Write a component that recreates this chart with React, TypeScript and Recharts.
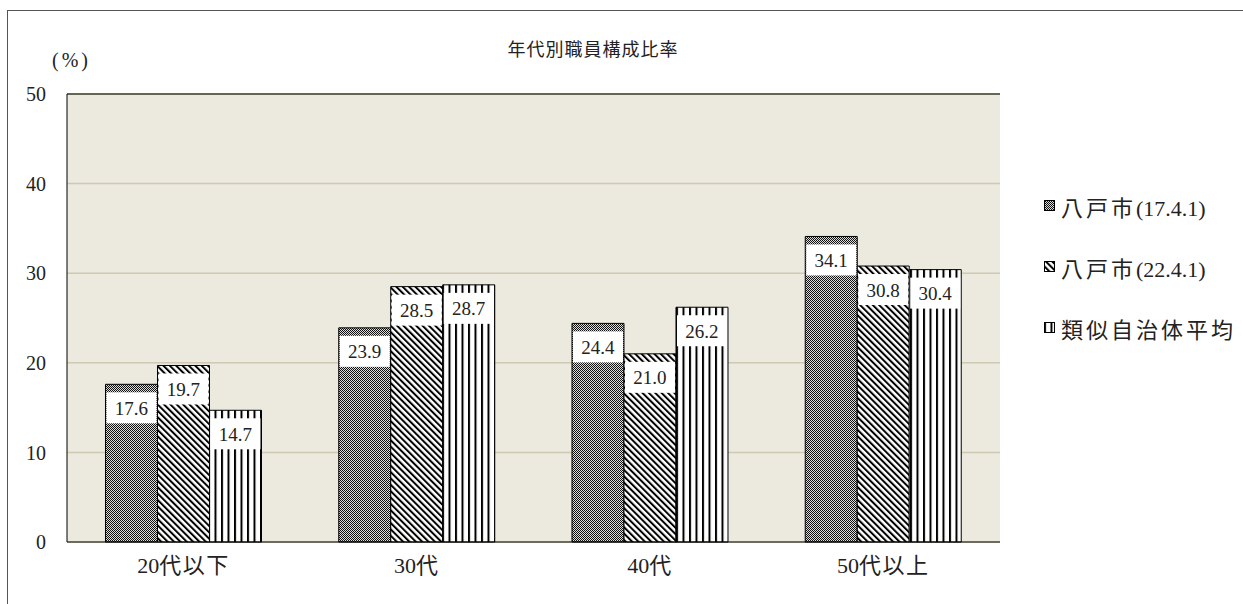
import React from 'react';
import { BarChart, Bar, XAxis, YAxis, CartesianGrid, Legend, LabelList, ReferenceLine } from 'recharts';

const categories = ['20代以下', '30代', '40代', '50代以上'];
const seriesNames = ['八戸市(17.4.1)', '八戸市(22.4.1)', '類似自治体平均'];
const hachinohe17 = [17.6, 23.9, 24.4, 34.1];
const hachinohe22 = [19.7, 28.5, 21.0, 30.8];
const similarAvg = [14.7, 28.7, 26.2, 30.4];
const yTicks = [0, 10, 20, 30, 40, 50];

const FONT = "'Liberation Serif', 'Noto Sans CJK JP', serif";
const PATTERNS = ['url(#pat-check)', 'url(#pat-diag)', 'url(#pat-vert)'];
const KEYS = ['s17', 's22', 'avg'];

const data = categories.map((name, i) => ({
  name,
  s17: hachinohe17[i],
  s22: hachinohe22[i],
  avg: similarAvg[i],
}));

// split a label into ascii / wide-character runs so the kanji can be spaced out
const runs = (s: string) => s.match(/[\x00-\x7F]+|[^\x00-\x7F]+/g) || [];
const isWide = (s: string) => /[^\x00-\x7F]/.test(s);

// white box with the value, sitting just inside the top of each bar
const BoxLabel = (props: any) => {
  const { x, y, width, value } = props;
  const top = y + 8;
  return (
    <g>
      <rect x={x + 1} y={top} width={width - 2} height={31} fill="#ffffff" />
      <text
        x={x + width / 2}
        y={top + 16}
        textAnchor="middle"
        dominantBaseline="central"
        fontSize={19}
        fontFamily={FONT}
        fill="#222"
      >
        {Number(value).toFixed(1)}
      </text>
    </g>
  );
};

const CategoryTick = (props: any) => {
  const { x, y, payload } = props;
  return (
    <text x={x} y={y + 29} textAnchor="middle" fontSize={22} fontFamily={FONT} fill="#222">
      {runs(payload.value).map((r, i) => (
        <tspan key={i} letterSpacing={isWide(r) ? 1.5 : 0}>{r}</tspan>
      ))}
    </text>
  );
};

const LegendBox = () => (
  <div style={{ fontFamily: FONT, fontSize: 22, color: '#222' }}>
    {seriesNames.map((n, i) => (
      <div key={n} style={{ display: 'flex', alignItems: 'center', height: 61 }}>
        <svg width={11} height={11} style={{ marginRight: 6 }}>
          <rect x={0.5} y={0.5} width={10} height={10} fill={PATTERNS[i]} stroke="#000" />
        </svg>
        <span>
          {runs(n).map((r, j) => (
            <span key={j} style={{ letterSpacing: isWide(r) ? 3 : 0 }}>{r}</span>
          ))}
        </span>
      </div>
    ))}
  </div>
);

export default function App() {
  return (
    <div style={{ position: 'absolute', left: 0, top: 0, width: 1243, height: 604, overflow: 'hidden', background: '#fff' }}>
      <div style={{ position: 'absolute', left: 7, top: 10, width: 1300, height: 700, border: '1px solid #555' }} />
      <div style={{ position: 'absolute', left: 0, width: 1186, top: 35, textAlign: 'center', fontFamily: FONT, fontSize: 18, letterSpacing: 1, color: '#222' }}>
        年代別職員構成比率
      </div>
      <div style={{ position: 'absolute', left: 52, top: 49, fontFamily: FONT, fontSize: 20, letterSpacing: 3, color: '#222' }}>(%)</div>
      <BarChart
        width={1243}
        height={604}
        data={data}
        margin={{ top: 94, right: 243, bottom: 0, left: 7 }}
        barCategoryGap="16.5%"
        barGap={0}
        style={{ position: 'absolute', left: 0, top: 0 }}
      >
        <defs>
          <pattern id="pat-check" width={2} height={2} patternUnits="userSpaceOnUse">
            <rect width={2} height={2} fill="#dcdcdc" />
            <rect width={1} height={1} fill="#111" />
            <rect x={1} y={1} width={1} height={1} fill="#111" />
          </pattern>
          <pattern id="pat-diag" width={4.5} height={4.5} patternUnits="userSpaceOnUse" patternTransform="rotate(-45)">
            <rect width={4.5} height={4.5} fill="#fff" />
            <rect width={2} height={4.5} fill="#000" />
          </pattern>
          <pattern id="pat-vert" width={6.5} height={6} patternUnits="userSpaceOnUse">
            <rect width={6.5} height={6} fill="#fff" />
            <rect width={2} height={6} fill="#000" />
          </pattern>
        </defs>
        <CartesianGrid vertical={false} stroke="#cfc8b2" fill="#ece9df" strokeWidth={1.5} />
        <XAxis
          dataKey="name"
          height={62}
          tickLine={false}
          tickSize={0}
          axisLine={{ stroke: '#000' }}
          tick={CategoryTick}
        />
        <YAxis
          domain={[0, 50]}
          ticks={yTicks}
          width={60}
          tickLine={false}
          tickSize={6}
          tickMargin={15}
          axisLine={{ stroke: '#000' }}
          tick={{ fontFamily: FONT, fontSize: 20, fill: '#222' }}
        />
        <YAxis yAxisId="frame" orientation="right" width={0} tick={false} tickLine={false} axisLine={{ stroke: '#777', strokeWidth: 2 }} />
        <ReferenceLine y={50} stroke="#3f3f30" strokeWidth={1.5} />
        {KEYS.map((k, i) => (
          <Bar key={k} dataKey={k} name={seriesNames[i]} fill={PATTERNS[i]} stroke="#000" strokeWidth={1} isAnimationActive={false}>
            <LabelList dataKey={k} content={BoxLabel} />
          </Bar>
        ))}
        <Legend
          layout="horizontal"
          verticalAlign="middle"
          align="center"
          content={LegendBox}
          wrapperStyle={{ left: 1044, top: 175, width: 199 }}
        />
      </BarChart>
    </div>
  );
}
